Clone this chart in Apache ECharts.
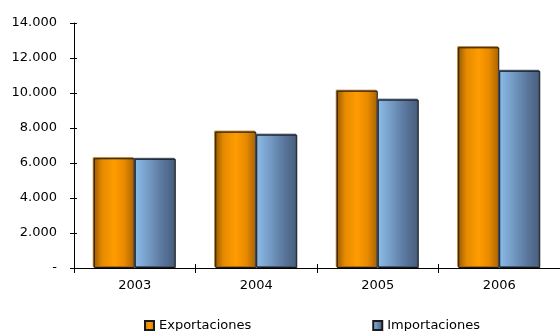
<!DOCTYPE html>
<html>
<head>
<meta charset="utf-8">
<script src="https://cdn.jsdelivr.net/npm/echarts@6/dist/echarts.min.js"></script>
<style>
  html, body { margin: 0; padding: 0; background: #fff; }
  #chart { width: 560px; height: 331px; }
</style>
</head>
<body>
<div id="chart"></div>
<script>
const years = ['2003', '2004', '2005', '2006']
const exportaciones = [6270, 7790, 10130, 12610]
const importaciones = [6240, 7620, 9620, 11270]
const seriesNames = ['Exportaciones', 'Importaciones']

const font = 'DejaVu Sans'

// degradado naranja (horizontal, como cilindro)
const orangeFill = new echarts.graphic.LinearGradient(0, 0, 1, 0, [
  { offset: 0, color: '#9a5a00' },
  { offset: 0.2, color: '#e58a00' },
  { offset: 0.5, color: '#ff9c00' },
  { offset: 0.75, color: '#e88a00' },
  { offset: 1, color: '#a56200' }
])
// degradado azul (claro a la izquierda, oscuro a la derecha)
const blueFill = new echarts.graphic.LinearGradient(0, 0, 1, 0, [
  { offset: 0, color: '#8bbce9' },
  { offset: 0.35, color: '#7399c2' },
  { offset: 0.7, color: '#58749a' },
  { offset: 1, color: '#485e7a' }
])

function fmt(v){
  if (v === 0) return '-'
  return v.toLocaleString('de-DE')
}

const chart = echarts.init(document.getElementById('chart'))
chart.setOption({
  animation: false,
  textStyle: { fontFamily: font },
  grid: { left: 74, top: 23, bottom: 63, right: -10 },
  legend: {
    data: seriesNames,
    left: 139,
    top: 314,
    itemWidth: 9,
    itemHeight: 9,
    itemGap: 121,
    icon: 'rect',
    textStyle: { fontFamily: font, fontSize: 13, color: '#000' }
  },
  xAxis: [
    {
      type: 'category',
      data: years,
      axisLine: { lineStyle: { color: '#000', width: 1 } },
      axisTick: { show: true, length: 5, lineStyle: { color: '#000' } },
      axisLabel: { color: '#000', fontSize: 13, margin: 11, fontFamily: font }
    },
    {
      type: 'category',
      data: years,
      position: 'bottom',
      axisLine: { show: false },
      axisTick: { show: true, inside: true, length: 4, lineStyle: { color: '#000' } },
      axisLabel: { show: false }
    }
  ],
  yAxis: [
    {
      type: 'value',
      min: 0,
      max: 14000,
      interval: 2000,
      axisLine: { show: true, lineStyle: { color: '#000', width: 1 } },
      axisTick: { show: true, length: 4, lineStyle: { color: '#000' } },
      splitLine: { show: false },
      axisLabel: { color: '#000', fontSize: 13, margin: 17, fontFamily: font, formatter: fmt }
    },
    {
      type: 'value',
      min: 0,
      max: 14000,
      interval: 2000,
      position: 'left',
      axisLine: { show: false },
      axisTick: { show: true, inside: true, length: 3, lineStyle: { color: '#000' } },
      splitLine: { show: false },
      axisLabel: { show: false }
    }
  ],
  series: [
    {
      name: seriesNames[0],
      type: 'bar',
      data: exportaciones,
      barWidth: 41,
      barGap: '0%',
      itemStyle: {
        color: orangeFill,
        borderColor: '#1a1a1a',
        borderWidth: 1,
        shadowColor: 'rgba(170,100,0,0.9)',
        shadowOffsetX: -1,
        shadowOffsetY: -1
      }
    },
    {
      name: seriesNames[1],
      type: 'bar',
      data: importaciones,
      barWidth: 41,
      barGap: '0%',
      itemStyle: {
        color: blueFill,
        borderColor: '#1a1a1a',
        borderWidth: 1,
        shadowColor: 'rgba(60,80,110,0.9)',
        shadowOffsetX: -1,
        shadowOffsetY: -1
      }
    }
  ]
})
</script>
</body>
</html>
